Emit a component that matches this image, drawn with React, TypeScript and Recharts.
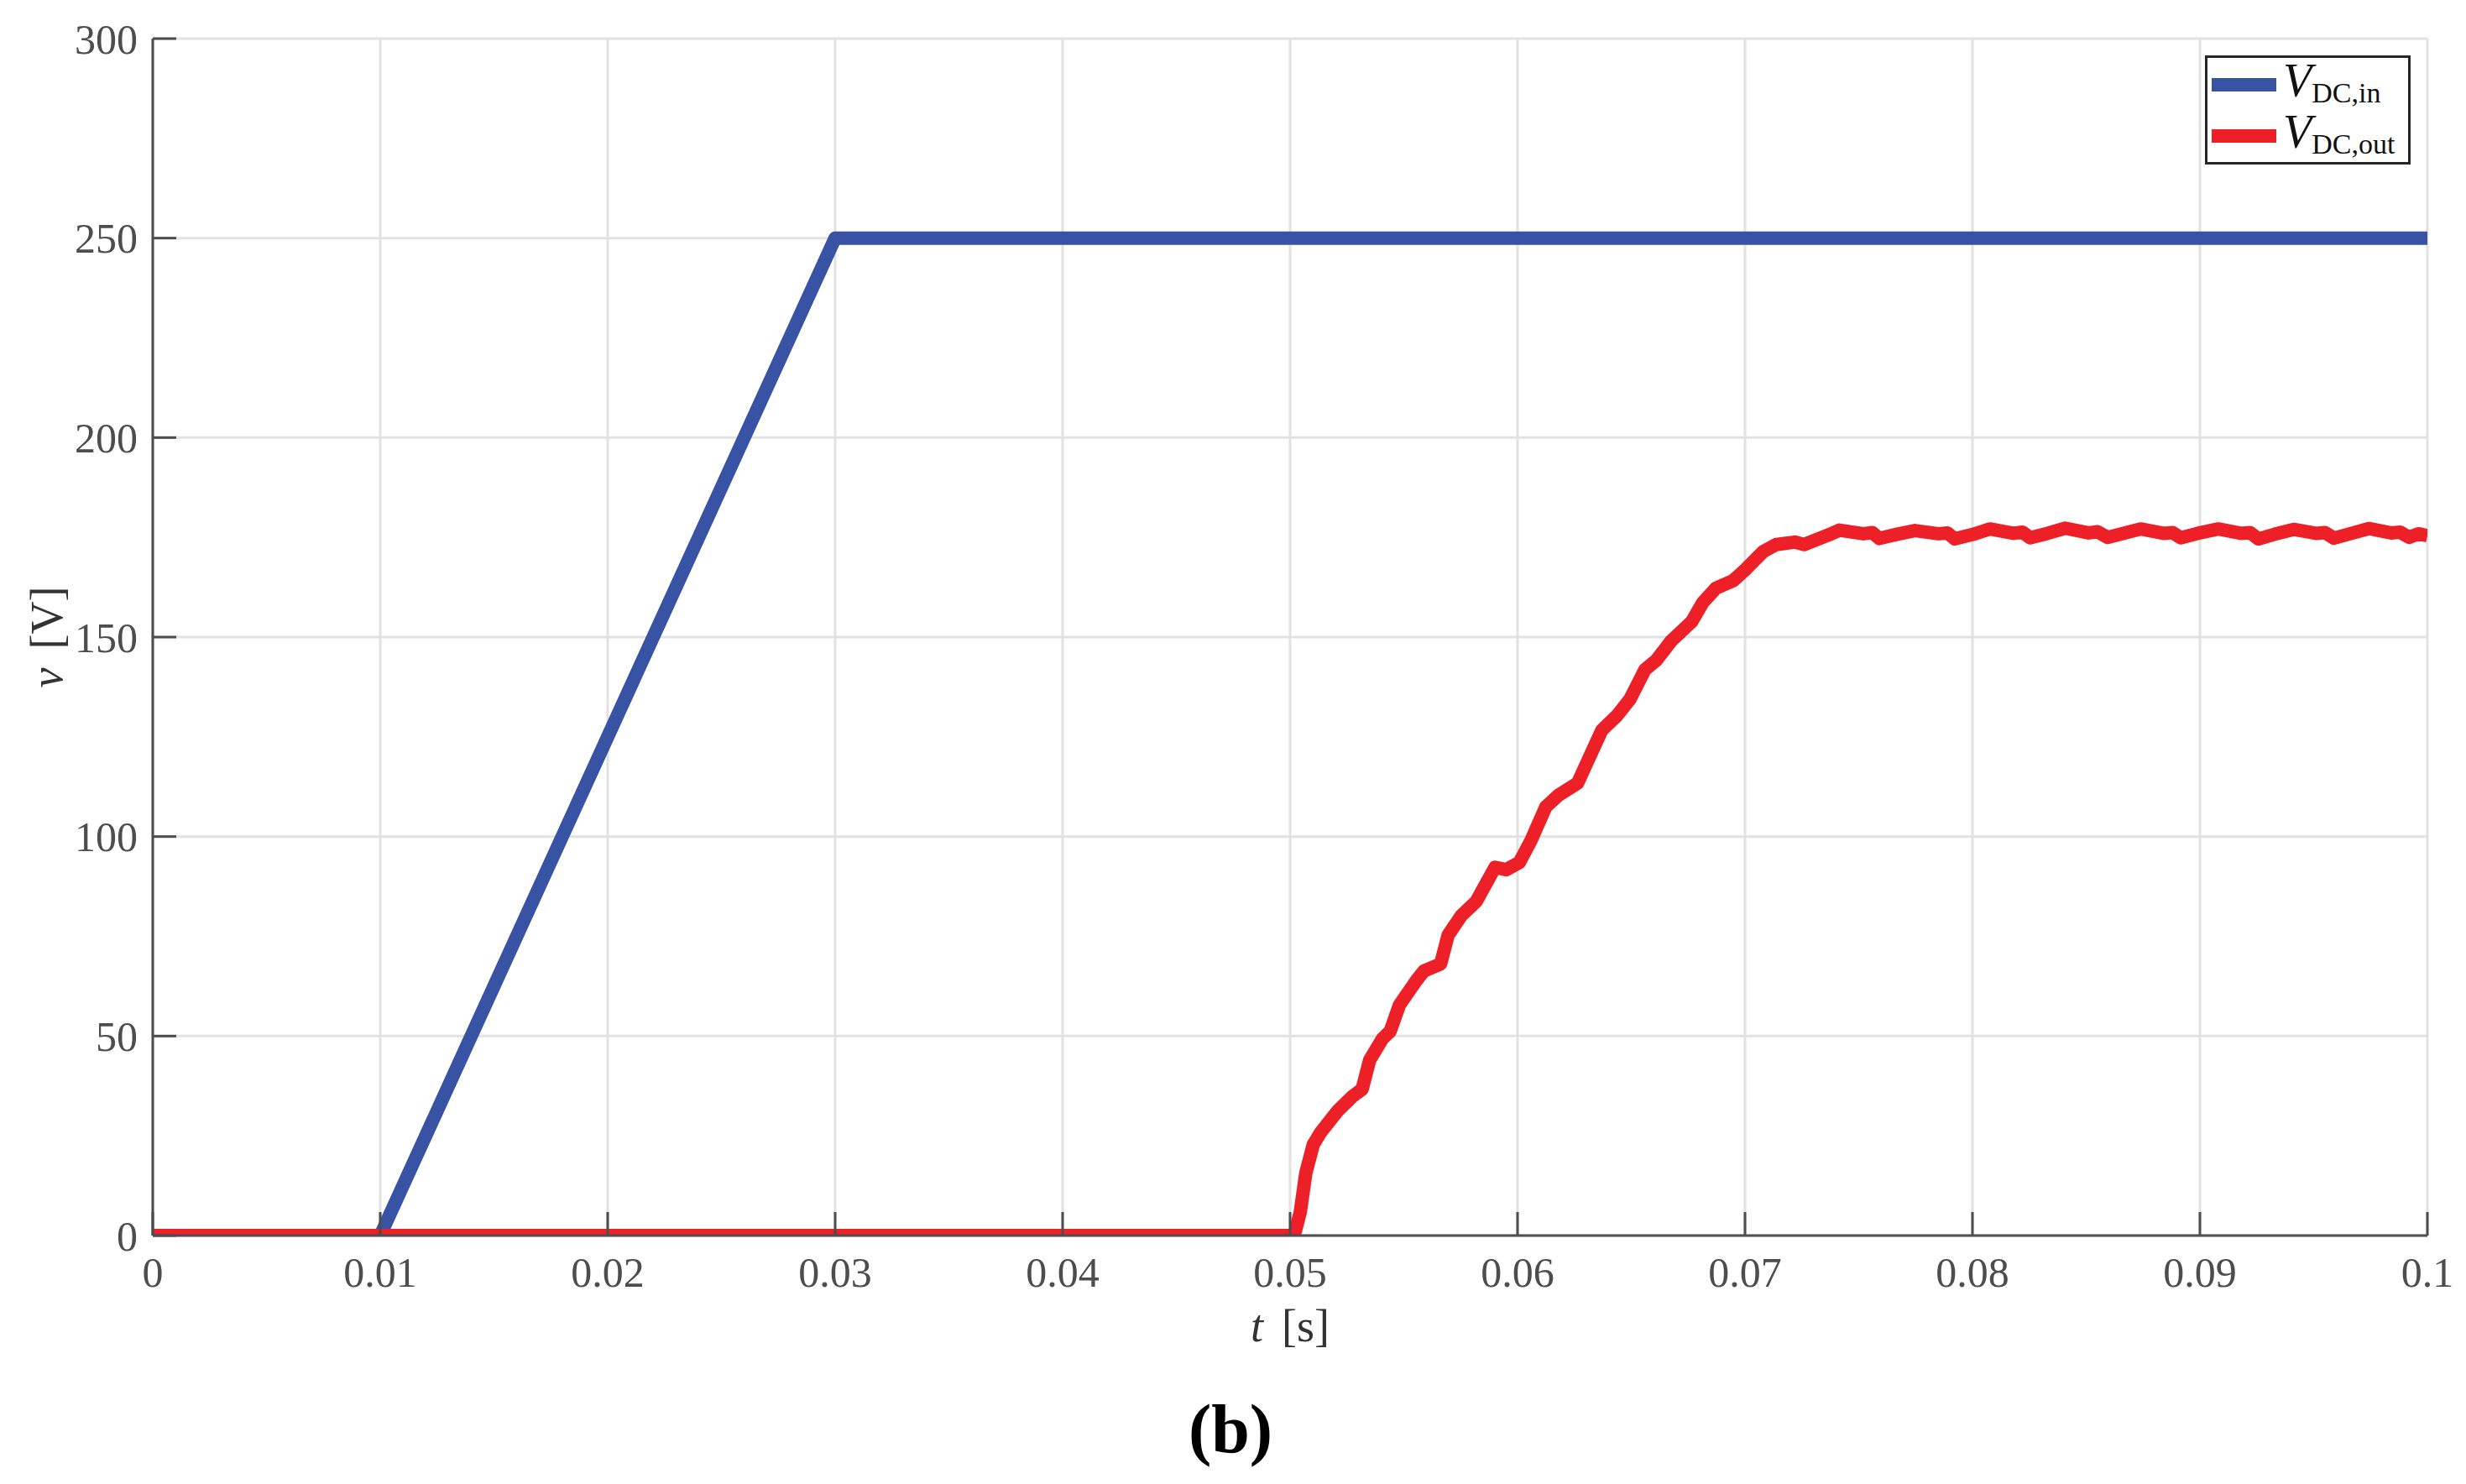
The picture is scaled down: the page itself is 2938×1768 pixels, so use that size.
import React from 'react';
import { LineChart, Line, XAxis, YAxis, CartesianGrid, Legend } from 'recharts';

const xTicks = [0, 0.01, 0.02, 0.03, 0.04, 0.05, 0.06, 0.07, 0.08, 0.09, 0.1];
const yTicks = [0, 50, 100, 150, 200, 250, 300];

const vinTimes = [0, 0.01, 0.03, 0.1];
const vinValues = [0, 0, 250, 250];

const voutTimes = [
  0, 0.05, 0.05018, 0.05045, 0.05069, 0.05102, 0.05135, 0.0521, 0.05275, 0.05317, 0.0535, 0.05407,
  0.0544, 0.05481, 0.05555, 0.05588, 0.05662, 0.05695, 0.05753, 0.05819, 0.05901, 0.0595,
  0.06008, 0.06058, 0.06124, 0.06181, 0.06264, 0.06313, 0.06371, 0.06437, 0.06495, 0.0656,
  0.0661, 0.06675, 0.06766, 0.06815, 0.06873, 0.06947, 0.07005, 0.07079, 0.07137, 0.07219,
  0.0726, 0.07367, 0.07415,
  0.0752, 0.0756, 0.0759, 0.0767, 0.07747,
  0.0785, 0.0789, 0.07922, 0.08, 0.08077,
  0.0818, 0.0822, 0.08253, 0.0833, 0.08408,
  0.0851, 0.0855, 0.08594, 0.0867, 0.08739,
  0.0884, 0.0888, 0.08915, 0.0899, 0.09081,
  0.0918, 0.0922, 0.09257, 0.0933, 0.09412,
  0.0951, 0.0955, 0.09589, 0.0966, 0.09742,
  0.0984, 0.0988, 0.09919, 0.0996, 0.1,
];
const voutValues = [
  0, 0, 0, 5.9, 15.6, 22.8, 25.9, 31.3, 34.9, 36.7, 44.0, 49.4,
  51.2, 57.8, 63.9, 66.3, 68.1, 75.3, 80.2, 83.8, 92.3, 91.7,
  93.5, 98.9, 107.4, 110.4, 113.4, 119.5, 126.7, 130.3, 134.5, 141.8,
  144.2, 149.0, 153.9, 158.7, 162.3, 164.1, 167.1, 171.4, 173.2, 173.8,
  173.2, 175.6, 176.8,
  175.9, 176.2, 174.7, 175.8, 176.7,
  175.9, 176.1, 174.6, 175.7, 177.1,
  176.0, 176.3, 174.9, 176.0, 177.3,
  176.1, 176.4, 175.0, 176.1, 177.1,
  176.0, 176.2, 174.9, 176.0, 177.1,
  176.0, 176.2, 174.6, 175.8, 177.0,
  176.0, 176.2, 174.8, 175.9, 177.2,
  176.1, 176.3, 175.0, 175.9, 175.4,
];

const vinData = vinTimes.map((t, i) => ({ t, v: vinValues[i] }));
const voutData = voutTimes.map((t, i) => ({ t, v: voutValues[i] }));

const FONT = '"Liberation Serif", "Times New Roman", serif';
const AXIS = '#4d4d4d';
const GRID = '#e2e2e2';
const BLUE = '#3953a4';
const RED = '#ed1f27';

const fmtX = (v: number) => (v === 0 ? '0' : String(+v.toFixed(2)));

const renderLegend = (props: any) => {
  const payload = props.payload || [];
  return (
    <svg width={245} height={130} style={{ display: 'block' }}>
      <rect x={1.5} y={1.5} width={242} height={127} fill="#fff" stroke="#262626" strokeWidth={3} />
      {payload.map((entry: any, i: number) => {
        const name: string = String(entry.value);
        return (
          <g key={i}>
            <rect x={8} y={27 + 61 * i} width={77} height={16} fill={entry.color} />
            <text x={93} y={49 + 61 * i} fontFamily={FONT} fill="#111">
              <tspan fontStyle="italic" fontSize={56}>{name.charAt(0)}</tspan>
              <tspan fontSize={34} dy={7}>{name.slice(1)}</tspan>
            </text>
          </g>
        );
      })}
    </svg>
  );
};

const XLabel = (props: any) => {
  const vb = props.viewBox || { x: 0, y: 0, width: 0, height: 0 };
  const cx = vb.x + vb.width / 2;
  return (
    <g>
      <text x={cx} y={vb.y + 126} textAnchor="middle" fontFamily={FONT} fontSize={54} fill="#333">
        <tspan fontStyle="italic">t</tspan>
        <tspan dx={22}>[s]</tspan>
      </text>
      <text x={cx - 71} y={vb.y + 258} textAnchor="middle" fontFamily={FONT} fontSize={82} fontWeight="bold" fill="#000">
        (b)
      </text>
    </g>
  );
};

const YLabel = (props: any) => {
  const vb = props.viewBox || { x: 0, y: 0, width: 0, height: 0 };
  const x = vb.x + 42;
  const y = vb.y + vb.height / 2;
  return (
    <text x={x} y={y} textAnchor="middle" fontFamily={FONT} fontSize={54} fill="#333" transform={`rotate(-90, ${x}, ${y})`}>
      <tspan fontStyle="italic">v</tspan>
      <tspan dx={22}>[V]</tspan>
    </text>
  );
};

export default function App() {
  const tickStyle = { fontFamily: FONT, fontSize: 50, fill: AXIS };
  const lineStyle = { stroke: AXIS, strokeWidth: 3 };
  return (
    <div style={{ position: 'absolute', left: 0, top: 0, width: 2938, height: 1768, background: '#fff' }}>
      <LineChart
        width={2938}
        height={1768}
        margin={{ top: 46, right: 46, bottom: 196, left: 32 }}
      >
        <CartesianGrid stroke={GRID} strokeWidth={3} verticalPoints={undefined} />
        <XAxis
          dataKey="t"
          type="number"
          domain={[0, 0.1]}
          ticks={xTicks}
          interval={0}
          allowDataOverflow
          tickFormatter={fmtX}
          height={100}
          axisLine={lineStyle}
          tickLine={lineStyle}
          tickSize={-28}
          tickMargin={53}
          tick={tickStyle}
          label={{ content: <XLabel /> } as any}
        />
        <XAxis
          xAxisId="top"
          orientation="top"
          dataKey="t"
          type="number"
          domain={[0, 0.1]}
          ticks={xTicks}
          interval={0}
          allowDataOverflow
          height={0}
          axisLine={lineStyle}
          tickLine={lineStyle}
          tickSize={-28}
          tick={false}
        />
        <YAxis
          type="number"
          domain={[0, 300]}
          ticks={yTicks}
          interval={0}
          allowDataOverflow
          width={150}
          axisLine={lineStyle}
          tickLine={lineStyle}
          tickSize={-28}
          tickMargin={46}
          tick={tickStyle}
          label={{ content: <YLabel /> } as any}
        />
        <YAxis
          yAxisId="right"
          orientation="right"
          type="number"
          domain={[0, 300]}
          ticks={yTicks}
          interval={0}
          allowDataOverflow
          width={0}
          axisLine={lineStyle}
          tickLine={lineStyle}
          tickSize={-28}
          tick={false}
        />
        <Legend
          content={renderLegend}
          layout="horizontal"
          verticalAlign="middle"
          align="center"
          wrapperStyle={{ top: 66, left: 2627, width: 245, height: 130 }}
        />
        <Line
          data={vinData}
          dataKey="v"
          name="VDC,in"
          stroke={BLUE}
          strokeWidth={16}
          strokeLinejoin="round"
          dot={false}
          activeDot={false}
          isAnimationActive={false}
          type="linear"
        />
        <Line
          data={voutData}
          dataKey="v"
          name="VDC,out"
          stroke={RED}
          strokeWidth={16}
          strokeLinejoin="round"
          dot={false}
          activeDot={false}
          isAnimationActive={false}
          type="linear"
        />
      </LineChart>
    </div>
  );
}
